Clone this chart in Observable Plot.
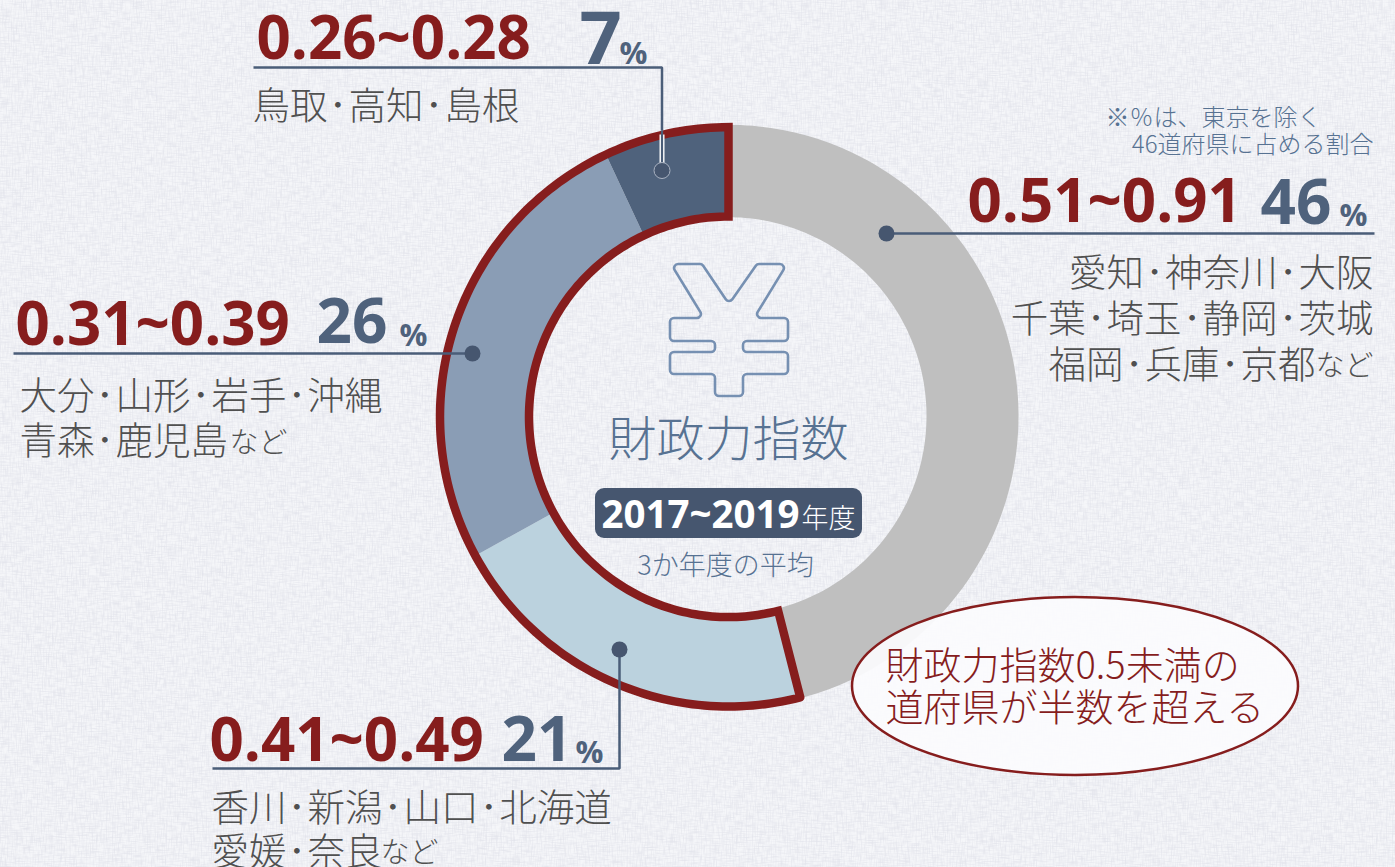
<!DOCTYPE html>
<html lang="ja">
<head>
<meta charset="utf-8">
<script src="https://cdn.jsdelivr.net/npm/d3@7"></script>
<script src="https://cdn.jsdelivr.net/npm/@observablehq/plot@0.6"></script>
<style>
html,body{margin:0;padding:0;width:1395px;height:867px;overflow:hidden;background:#f2f3f8}
#chart{position:absolute;left:0;top:0;width:1395px;height:867px}
</style>
</head>
<body>
<div id="chart"></div>
<script>
// ---- data ----
const bands = ["0.51~0.91", "0.41~0.49", "0.31~0.39", "0.26~0.28"];
const shares = [46, 21, 26, 7];
const bandColors = ["#bfbfbf", "#bbd2de", "#8a9db5", "#4f627c"];
const prefs1 = ["愛知･神奈川･大阪", "千葉･埼玉･静岡･茨城", "福岡･兵庫･京都"];
const prefs2 = ["香川･新潟･山口･北海道", "愛媛･奈良"];
const prefs3 = ["大分･山形･岩手･沖縄", "青森･鹿児島"];
const prefs4 = ["鳥取･高知･島根"];
const suffix = "など";
const centerTitle = "財政力指数";
const period = "2017~2019";
const periodUnit = "年度";
const periodNote = "3か年度の平均";
const footnote = ["※％は、東京を除く", "46道府県に占める割合"];
const callout = ["財政力指数0.5未満の", "道府県が半数を超える"];

// ---- layout ----
const W = 1395, H = 867, CX = 728, RO = 290, RI = 198;
const RED = "#861d1d", NAVY = "#4a5d78", SLATE = "#577292", GREY = "#505050";
const NUM = "'Open Sans','Noto Sans',sans-serif", JP = "'Noto Sans CJK JP',sans-serif";

const polar = (pct, r, cy, k) => {
  const a = pct / 100 * 2 * Math.PI;
  return {x: CX + r * Math.sin(a), y: cy - k * r * Math.cos(a)};
};
// One closed ring outline between two cumulative shares
const ring = (from, to, ro, ri, band, cy, k) => {
  const n = Math.max(8, Math.ceil((to - from) * 3));
  const pts = [];
  for (let i = 0; i <= n; i++) pts.push({...polar(from + (to - from) * i / n, ro, cy, k), band});
  for (let i = n; i >= 0; i--) pts.push({...polar(from + (to - from) * i / n, ri, cy, k), band});
  pts.push(pts[0]);
  return pts;
};
const cum = d3.cumsum(shares);
const wedges = shares.flatMap((s, i) => ring(cum[i] - s, cum[i], RO, RI, bands[i], 415.5, 1.004));
const redOutline = ring(cum[0], 100, 288.5, 199.5, "red", 416.3, 1.004);

// ---- helpers ----
const T = (t, x, y, o = {}) => Plot.text([t], {
  x: [x], y: [y], text: d => d, lineAnchor: "bottom",
  textAnchor: o.anchor || "start", fontSize: o.size || 37.5,
  fontFamily: o.family || JP, fontWeight: o.weight || 300,
  fill: o.fill || GREY
});
const rangeT = (t, x, y) => T(t, x, y, {size: 60, family: NUM, weight: 700, fill: RED});
const pct = (n, size, x, y, px, py) => [
  T(String(n), x, y, {size, family: NUM, weight: 700, fill: "#4f627c"}),
  T("%", px, py, {size: 31, family: NUM, weight: 700, fill: "#4f627c"})
];
const lead = (pts, o = {}) => Plot.line(pts, {x: d => d[0], y: d => d[1], stroke: o.stroke || NAVY,
  strokeWidth: o.width || 2.5, strokeLinejoin: "miter", strokeLinecap: "butt"});
const pin = (x, y, stroke) => Plot.dot([[x, y]], {x: d => d[0], y: d => d[1], r: 8, fill: "#46566f", stroke: stroke || "none", strokeWidth: 1});

// Yen pictogram: a decorative outline, not data
const yen = [[671,264],[702,264],[729,304],[757,264],[787,264],[754,318],[788,318],[788,341],[743,341],[743,352],[788,352],[788,374],[743,374],[743,396],[715,396],[715,374],[670,374],[670,352],[715,352],[715,341],[670,341],[670,318],[704,318]];
const yenMark = () => {
  const p = d3.path(), r = 4, n = yen.length;
  const a = yen[n - 1], b = yen[0];
  p.moveTo((a[0] + b[0]) / 2, (a[1] + b[1]) / 2);
  for (let i = 0; i < n; i++) {
    const c = yen[i], d = yen[(i + 1) % n];
    p.arcTo(c[0], c[1], (c[0] + d[0]) / 2, (c[1] + d[1]) / 2, r);
  }
  p.closePath();
  const el = document.createElementNS("http://www.w3.org/2000/svg", "path");
  el.setAttribute("d", p.toString());
  el.setAttribute("fill", "none");
  el.setAttribute("stroke", "#7690b2");
  el.setAttribute("stroke-width", 2.6);
  return el;
};
// Callout ellipse
const bubble = () => {
  const el = document.createElementNS("http://www.w3.org/2000/svg", "ellipse");
  const at = {cx: 1075, cy: 686, rx: 223, ry: 89, fill: "#fbfbfd", "fill-opacity": 0.94, stroke: RED, "stroke-width": 2.5};
  for (const k in at) el.setAttribute(k, at[k]);
  return el;
};

// Woven paper texture as page background
const layer = (id, f, seed) => `<filter id="${id}" x="0" y="0" width="100%" height="100%"><feTurbulence type="fractalNoise" baseFrequency="${f}" numOctaves="2" seed="${seed}"/><feColorMatrix values="0 0 0 0 .76 0 0 0 0 .77 0 0 0 0 .83 0 0 0 1.7 -.68"/></filter>`;
const tex = `<svg xmlns="http://www.w3.org/2000/svg" width="1395" height="867">
${layer("h", ".8 .09", 4)}${layer("v", ".09 .8", 9)}
<rect width="1395" height="867" fill="#f5f6f9"/><rect width="1395" height="867" filter="url(#h)"/><rect width="1395" height="867" filter="url(#v)"/></svg>`;
document.body.style.background = `#f2f3f8 url("data:image/svg+xml,${encodeURIComponent(tex)}") 0 0 no-repeat`;

const chart = Plot.plot({
  width: W, height: H, margin: 0,
  x: {domain: [0, W], range: [0, W], axis: null},
  y: {domain: [0, H], range: [0, H], axis: null},
  color: {domain: bands, range: bandColors},
  style: {background: "transparent"},
  marks: [
    // donut
    Plot.line(wedges, {x: "x", y: "y", fill: "band"}),
    Plot.line(redOutline, {x: "x", y: "y", stroke: RED, strokeWidth: 8.5, strokeLinejoin: "miter", strokeMiterlimit: 8}),

    // top-left group 0.26~0.28
    rangeT(bands[3], 256, 58),
    ...pct(shares[3], 74, 579, 63, 619, 63),
    lead([[253, 67], [661.5, 67], [661.5, 130]]),
    lead([[661.5, 134], [661.5, 165]], {stroke: "#ffffff", width: 5}),
    lead([[661.5, 130], [661.5, 165]], {stroke: "#4a5d78", width: 2.2}),
    pin(661.5, 170, "#aab3c2"),
    T(prefs4[0], 252, 118),

    // right group 0.51~0.91
    T(footnote[0], 1105, 125, {size: 24, fill: SLATE}),
    T(footnote[1], 1373, 152, {size: 24, fill: SLATE, anchor: "end"}),
    rangeT(bands[0], 967, 221),
    ...pct(shares[0], 62, 1260, 223, 1339, 225),
    lead([[886, 233], [1374, 233]]),
    pin(886, 233),
    T(prefs1[0], 1373, 285, {anchor: "end"}),
    T(prefs1[1], 1373, 331, {anchor: "end"}),
    T(prefs1[2], 1315, 377, {anchor: "end"}),
    T(suffix, 1373, 375, {anchor: "end", size: 29}),

    // left group 0.31~0.39
    rangeT(bands[2], 15, 344),
    ...pct(shares[2], 62, 316, 342, 399, 345),
    lead([[13, 353], [472, 353]]),
    pin(472, 353),
    T(prefs3[0], 19, 408),
    T(prefs3[1], 19, 453),
    T(suffix, 229, 452, {size: 29}),

    // bottom group 0.41~0.49
    rangeT(bands[1], 209, 760),
    ...pct(shares[1], 62, 501, 760, 575, 762),
    lead([[212, 768], [619, 768], [619, 649]]),
    pin(619, 649),
    T(prefs2[0], 211, 820),
    T(prefs2[1], 211, 864),
    T(suffix, 380, 862, {size: 29}),

    // centre
    yenMark,
    T(centerTitle, 728, 455, {size: 48, anchor: "middle", fill: SLATE}),
    Plot.rect([0], {x1: [595], x2: [862], y1: [488], y2: [538], fill: "#46566f", rx: 9}),
    T(period, 601, 527, {size: 38.5, family: NUM, weight: 700, fill: "#ffffff"}),
    T(periodUnit, 801, 527, {size: 27, fill: "#ffffff"}),
    T(periodNote, 725, 574, {size: 27, anchor: "middle", fill: SLATE}),

    // callout
    bubble,
    T(callout[0], 885, 678, {size: 38, fill: RED}),
    T(callout[1], 885, 720, {size: 38, fill: RED})
  ]
});

// Widen the gaps round the middle dots of the prefecture lists, keeping the text itself
chart.querySelectorAll("text").forEach(t => {
  const target = t.querySelector("tspan") || t;
  if (!target.textContent.includes("･")) return;
  const parts = target.textContent.split(/(･)/);
  target.textContent = "";
  parts.forEach((s, i) => {
    const span = document.createElementNS("http://www.w3.org/2000/svg", "tspan");
    span.textContent = s;
    if (i > 0) span.setAttribute("dx", "1.1");
    target.append(span);
  });
});
document.getElementById("chart").append(chart);
</script>
</body>
</html>
